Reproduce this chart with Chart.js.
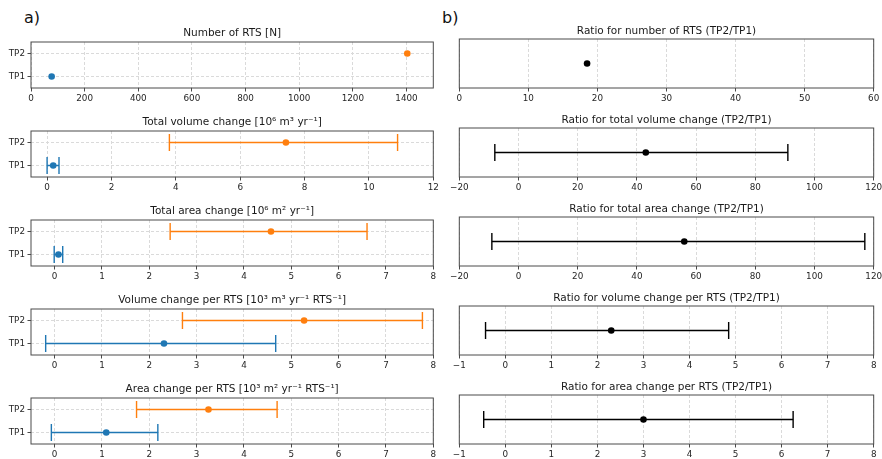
<!DOCTYPE html>
<html lang="en">
<head>
<meta charset="UTF-8" />
<title>RTS TP1 / TP2</title>
<script src="https://cdn.jsdelivr.net/npm/chart.js"></script>
<style>
  body { margin: 0; background: #fff; font-family: 'DejaVu Sans', sans-serif; }
  #fig { position: relative; width: 882px; height: 459px; overflow: hidden; background: #fff; }
  .panel { position: absolute; }
  .tag { position: absolute; font-size: 16px; line-height: 16px; color: #111; }
</style>
</head>
<body>
<div id="fig">
  <div class="tag" style="left:24px;top:10px">a)</div>
  <div class="tag" style="left:442px;top:10px">b)</div>
</div>

<script>
// values are ordered [TP1, TP2]
const tpLabels = ['TP1', 'TP2'];

const rtsCount = [77, 1403];
const volTotal = [0.19, 7.42];
const volTotalLo = [0.00, 3.80];
const volTotalHi = [0.37, 10.89];
const areaTotal = [0.08, 4.57];
const areaTotalLo = [-0.01, 2.44];
const areaTotalHi = [0.17, 6.60];
const volPerRts = [2.31, 5.27];
const volPerRtsLo = [-0.19, 2.70];
const volPerRtsHi = [4.67, 7.77];
const areaPerRts = [1.09, 3.25];
const areaPerRtsLo = [-0.07, 1.73];
const areaPerRtsHi = [2.18, 4.70];

// ratios TP2/TP1 (first one has no range)
const ratioMid = [18.5, 43, 56, 2.30, 3.00];
const ratioLo = [null, -8, -9, -0.43, -0.47];
const ratioHi = [null, 91, 117, 4.85, 6.25];

const titlesA = [
  'Number of RTS [N]',
  'Total volume change [10⁶ m³ yr⁻¹]',
  'Total area change [10⁶ m² yr⁻¹]',
  'Volume change per RTS [10³ m³ yr⁻¹ RTS⁻¹]',
  'Area change per RTS [10³ m² yr⁻¹ RTS⁻¹]'
];
const titlesB = [
  'Ratio for number of RTS (TP2/TP1)',
  'Ratio for total volume change (TP2/TP1)',
  'Ratio for total area change (TP2/TP1)',
  'Ratio for volume change per RTS (TP2/TP1)',
  'Ratio for area change per RTS (TP2/TP1)'
];

const ticksA = [
  [0, 200, 400, 600, 800, 1000, 1200, 1400],
  [0, 2, 4, 6, 8, 10, 12],
  [0, 1, 2, 3, 4, 5, 6, 7, 8],
  [0, 1, 2, 3, 4, 5, 6, 7, 8],
  [0, 1, 2, 3, 4, 5, 6, 7, 8]
];
const rangeA = [[0, 1500], [-0.5, 12], [-0.5, 8], [-0.5, 8], [-0.5, 8]];
const ticksB = [
  [0, 10, 20, 30, 40, 50, 60],
  [-20, 0, 20, 40, 60, 80, 100, 120],
  [-20, 0, 20, 40, 60, 80, 100, 120],
  [-1, 0, 1, 2, 3, 4, 5, 6, 7, 8],
  [-1, 0, 1, 2, 3, 4, 5, 6, 7, 8]
];
const rangeB = [[0, 60], [-20, 120], [-20, 120], [-1, 8], [-1, 8]];

const blue = '#1f77b4';
const orange = '#ff7f0e';
const frameColor = '#4a4a4a';
const gridColor = '#dadada';

Chart.defaults.font.family = "'DejaVu Sans', sans-serif";
Chart.defaults.font.size = 8.8;
Chart.defaults.color = '#262626';

// box around the plot area, like matplotlib spines
const framePlugin = {
  id: 'frame',
  afterDatasetsDraw(chart) {
    const { ctx, chartArea: a } = chart;
    ctx.save();
    ctx.strokeStyle = frameColor;
    ctx.lineWidth = 1;
    ctx.strokeRect(a.left, a.top, a.right - a.left, a.bottom - a.top);
    ctx.restore();
  }
};

function dotSet(x, y, color) {
  return { data: [{ x: x, y: y }], pointRadius: 3.3, backgroundColor: color, borderWidth: 0, pointBorderWidth: 0 };
}

function errSet(lo, hi, y, color) {
  return {
    data: [{ x: lo, y: y }, { x: hi, y: y }],
    showLine: true, borderColor: color, borderWidth: 1.5,
    pointStyle: 'line', rotation: 90, pointRadius: 8.5,
    pointBorderColor: color, pointBorderWidth: 1.4, backgroundColor: color
  };
}

function xScale(range, ticks) {
  return {
    type: 'linear', min: range[0], max: range[1],
    afterBuildTicks: s => { s.ticks = ticks.map(v => ({ value: v })); },
    afterFit: s => { s.height = 22; s.paddingLeft = 0; s.paddingRight = 0; },
    ticks: { padding: 2, maxRotation: 0, autoSkip: false, callback: v => String(v).replace('-', '\u2212') },
    grid: { color: gridColor, tickColor: frameColor, tickLength: 3.5, tickWidth: 1, tickBorderDash: [] },
    border: { display: false, dash: [3, 2] }
  };
}

function addCanvas(left, top, w, h) {
  const d = document.createElement('div');
  d.className = 'panel';
  d.style.cssText = `left:${left}px;top:${top}px;width:${w}px;height:${h}px`;
  const c = document.createElement('canvas');
  c.width = w; c.height = h;
  c.style.width = w + 'px'; c.style.height = h + 'px';
  d.appendChild(c);
  document.getElementById('fig').appendChild(d);
  return c;
}

function makeChart(canvas, datasets, title, scales, padding, titlePad) {
  new Chart(canvas, {
    type: 'scatter',
    data: { datasets: datasets },
    options: {
      responsive: false, animation: false, events: [],
      layout: { padding: padding, autoPadding: false },
      scales: scales,
      plugins: {
        legend: { display: false },
        tooltip: { enabled: false },
        title: {
          display: true, text: title, fullSize: false, color: '#1a1a1a',
          font: { size: 10.5, weight: 'normal', lineHeight: '12px' },
          padding: titlePad
        }
      }
    },
    plugins: [framePlugin]
  });
}

// a) panels
const midA = [rtsCount, volTotal, areaTotal, volPerRts, areaPerRts];
const loA = [null, volTotalLo, areaTotalLo, volPerRtsLo, areaPerRtsLo];
const hiA = [null, volTotalHi, areaTotalHi, volPerRtsHi, areaPerRtsHi];

for (let i = 0; i < 5; i++) {
  const sets = [dotSet(midA[i][0], 0, blue), dotSet(midA[i][1], 1, orange)];
  if (loA[i]) {
    sets.push(errSet(loA[i][0], hiA[i][0], 0, blue));
    sets.push(errSet(loA[i][1], hiA[i][1], 1, orange));
  }
  const c = addCanvas(0, 22 + 89 * i, 440, 88);
  makeChart(c, sets, titlesA[i], {
    x: xScale(rangeA[i], ticksA[i]),
    y: {
      type: 'linear', min: -0.5, max: 1.5,
      afterBuildTicks: s => { s.ticks = tpLabels.map((t, k) => ({ value: k })); },
      afterFit: s => { s.width = 31; s.paddingTop = 0; s.paddingBottom = 0; },
      ticks: { padding: 2.5, callback: v => tpLabels[v] },
      grid: { color: gridColor, tickColor: frameColor, tickLength: 3.5, tickWidth: 1, tickBorderDash: [] },
      border: { display: false, dash: [3, 2] }
    }
  }, { left: 0, right: 6.7, top: 0, bottom: 0 }, { top: 5, bottom: 3 });
}

// b) panels
for (let i = 0; i < 5; i++) {
  const sets = [dotSet(ratioMid[i], 0, '#000')];
  if (ratioLo[i] !== null) sets.push(errSet(ratioLo[i], ratioHi[i], 0, '#000'));
  const c = addCanvas(440, 19 + 89 * i, 442, 91);
  makeChart(c, sets, titlesB[i], {
    x: xScale(rangeB[i], ticksB[i]),
    y: { type: 'linear', min: -1, max: 1, display: false }
  }, { left: 19.3, right: 8.3, top: 0, bottom: 0 }, { top: 6, bottom: 2 });
}
</script>
</body>
</html>
